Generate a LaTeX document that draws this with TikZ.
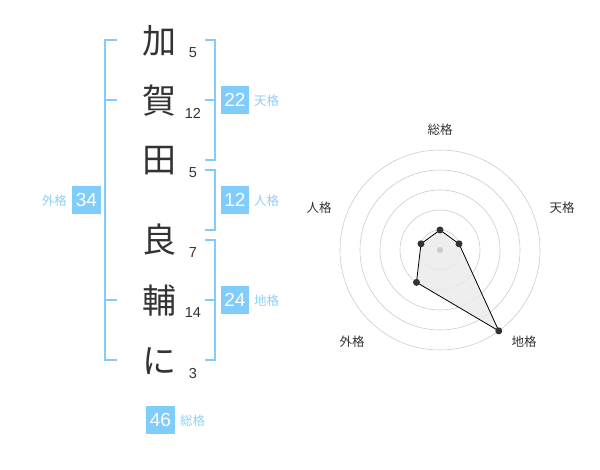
\documentclass[tikz,border=0pt]{standalone}
\usepackage{fontspec}
\setmainfont{Liberation Sans}
\newfontfamily\jp{Noto Sans CJK JP}
\definecolor{kblue}{RGB}{128,204,250}
\definecolor{klabel}{RGB}{140,208,248}
\definecolor{ktext}{RGB}{51,51,51}
\definecolor{kgrid}{RGB}{204,204,204}
\definecolor{kfill}{RGB}{235,235,235}
\tikzset{
  kanji/.style={font=\jp\fontsize{34}{34}\selectfont, text=ktext, inner sep=0pt},
  stroke/.style={font=\fontsize{14.5}{15}\selectfont, text=ktext, inner sep=0pt},
  valbox/.style={fill=kblue, text=white, minimum width=28.5pt, minimum height=28.5pt, inner sep=0pt, font=\fontsize{19}{19}\selectfont},
  kakulabel/.style={font=\jp\fontsize{12.5}{13}\selectfont, text=klabel, inner sep=0pt},
  radlabel/.style={font=\jp\fontsize{12.5}{13}\selectfont, text=ktext, inner sep=0pt},
  bracket/.style={draw=kblue, line width=2pt},
  grid/.style={draw=kgrid, line width=0.6pt},
  dot/.style={circle, fill=ktext, inner sep=0pt, minimum size=7pt},
}
\begin{document}
\begin{tikzpicture}[x=1pt,y=-1pt]
\useasboundingbox (0,0) rectangle (600,470);
% kanji
\node[kanji] (k1) at (159,41) {加};
\node[kanji] (k2) at (159,101) {賀};
\node[kanji] (k3) at (159,161) {田};
\node[kanji] (k4) at (159,240) {良};
\node[kanji] (k5) at (159,301) {輔};
\node[kanji] (k6) at (159,361) {に};
% stroke counts
\node[stroke] (s1) at (193,52.5) {5};
\node[stroke] (s2) at (193,113.5) {12};
\node[stroke] (s3) at (193,172.5) {5};
\node[stroke] (s4) at (193,252.5) {7};
\node[stroke] (s5) at (193,312.5) {14};
\node[stroke] (s6) at (193,373.5) {3};
% brackets
\draw[bracket] (117,40) -- (105,40) -- (105,360) -- (117,360);
\draw[bracket] (105,100) -- (117,100);
\draw[bracket] (105,300) -- (117,300);
\draw[bracket] (205,40) -- (215,40) -- (215,160) -- (205,160);
\draw[bracket] (205,100) -- (215,100);
\draw[bracket] (205,170) -- (215,170) -- (215,230) -- (205,230);
\draw[bracket] (205,240) -- (215,240) -- (215,360) -- (205,360);
\draw[bracket] (205,300) -- (215,300);
% value boxes
\node[valbox] (ten) at (235,100) {22};
\node[kakulabel, anchor=west] (tenl) at (254,100.5) {天格};
\node[valbox] (jin) at (235,200) {12};
\node[kakulabel, anchor=west] (jinl) at (254,200.5) {人格};
\node[valbox] (chi) at (235,300) {24};
\node[kakulabel, anchor=west] (chil) at (254,300.5) {地格};
\node[valbox] (gai) at (86.5,200) {34};
\node[kakulabel, anchor=east] (gail) at (67,200.5) {外格};
\node[valbox] (sou) at (160.5,420) {46};
\node[kakulabel, anchor=west] (soul) at (180,420.5) {総格};
% radar
\coordinate (c) at (440,250);
\foreach \r in {20,40,60,80,100} \draw[grid] (c) circle[radius=\r];
\coordinate (pS) at (440,230);
\coordinate (pT) at (459.02,243.82);
\coordinate (pC) at (498.78,330.9);
\coordinate (pG) at (416.49,282.36);
\coordinate (pJ) at (420.98,243.82);
\fill[kfill, opacity=0.85] (pS) -- (pT) -- (pC) -- (pG) -- (pJ) -- cycle;
\draw[black, line width=0.8pt] (pS) -- (pT) -- (pC) -- (pG) -- (pJ) -- cycle;
\node[circle, fill=kgrid, inner sep=0pt, minimum size=6pt] (cdot) at (c) {};
\foreach \p in {pS,pT,pC,pG,pJ} \node[dot] (d\p) at (\p) {};
\node[radlabel] (rS) at (440,130) {総格};
\node[radlabel] (rT) at (562,208) {天格};
\node[radlabel] (rJ) at (319,208) {人格};
\node[radlabel] (rG) at (352,342) {外格};
\node[radlabel] (rC) at (524,342) {地格};
\end{tikzpicture}
\end{document}
